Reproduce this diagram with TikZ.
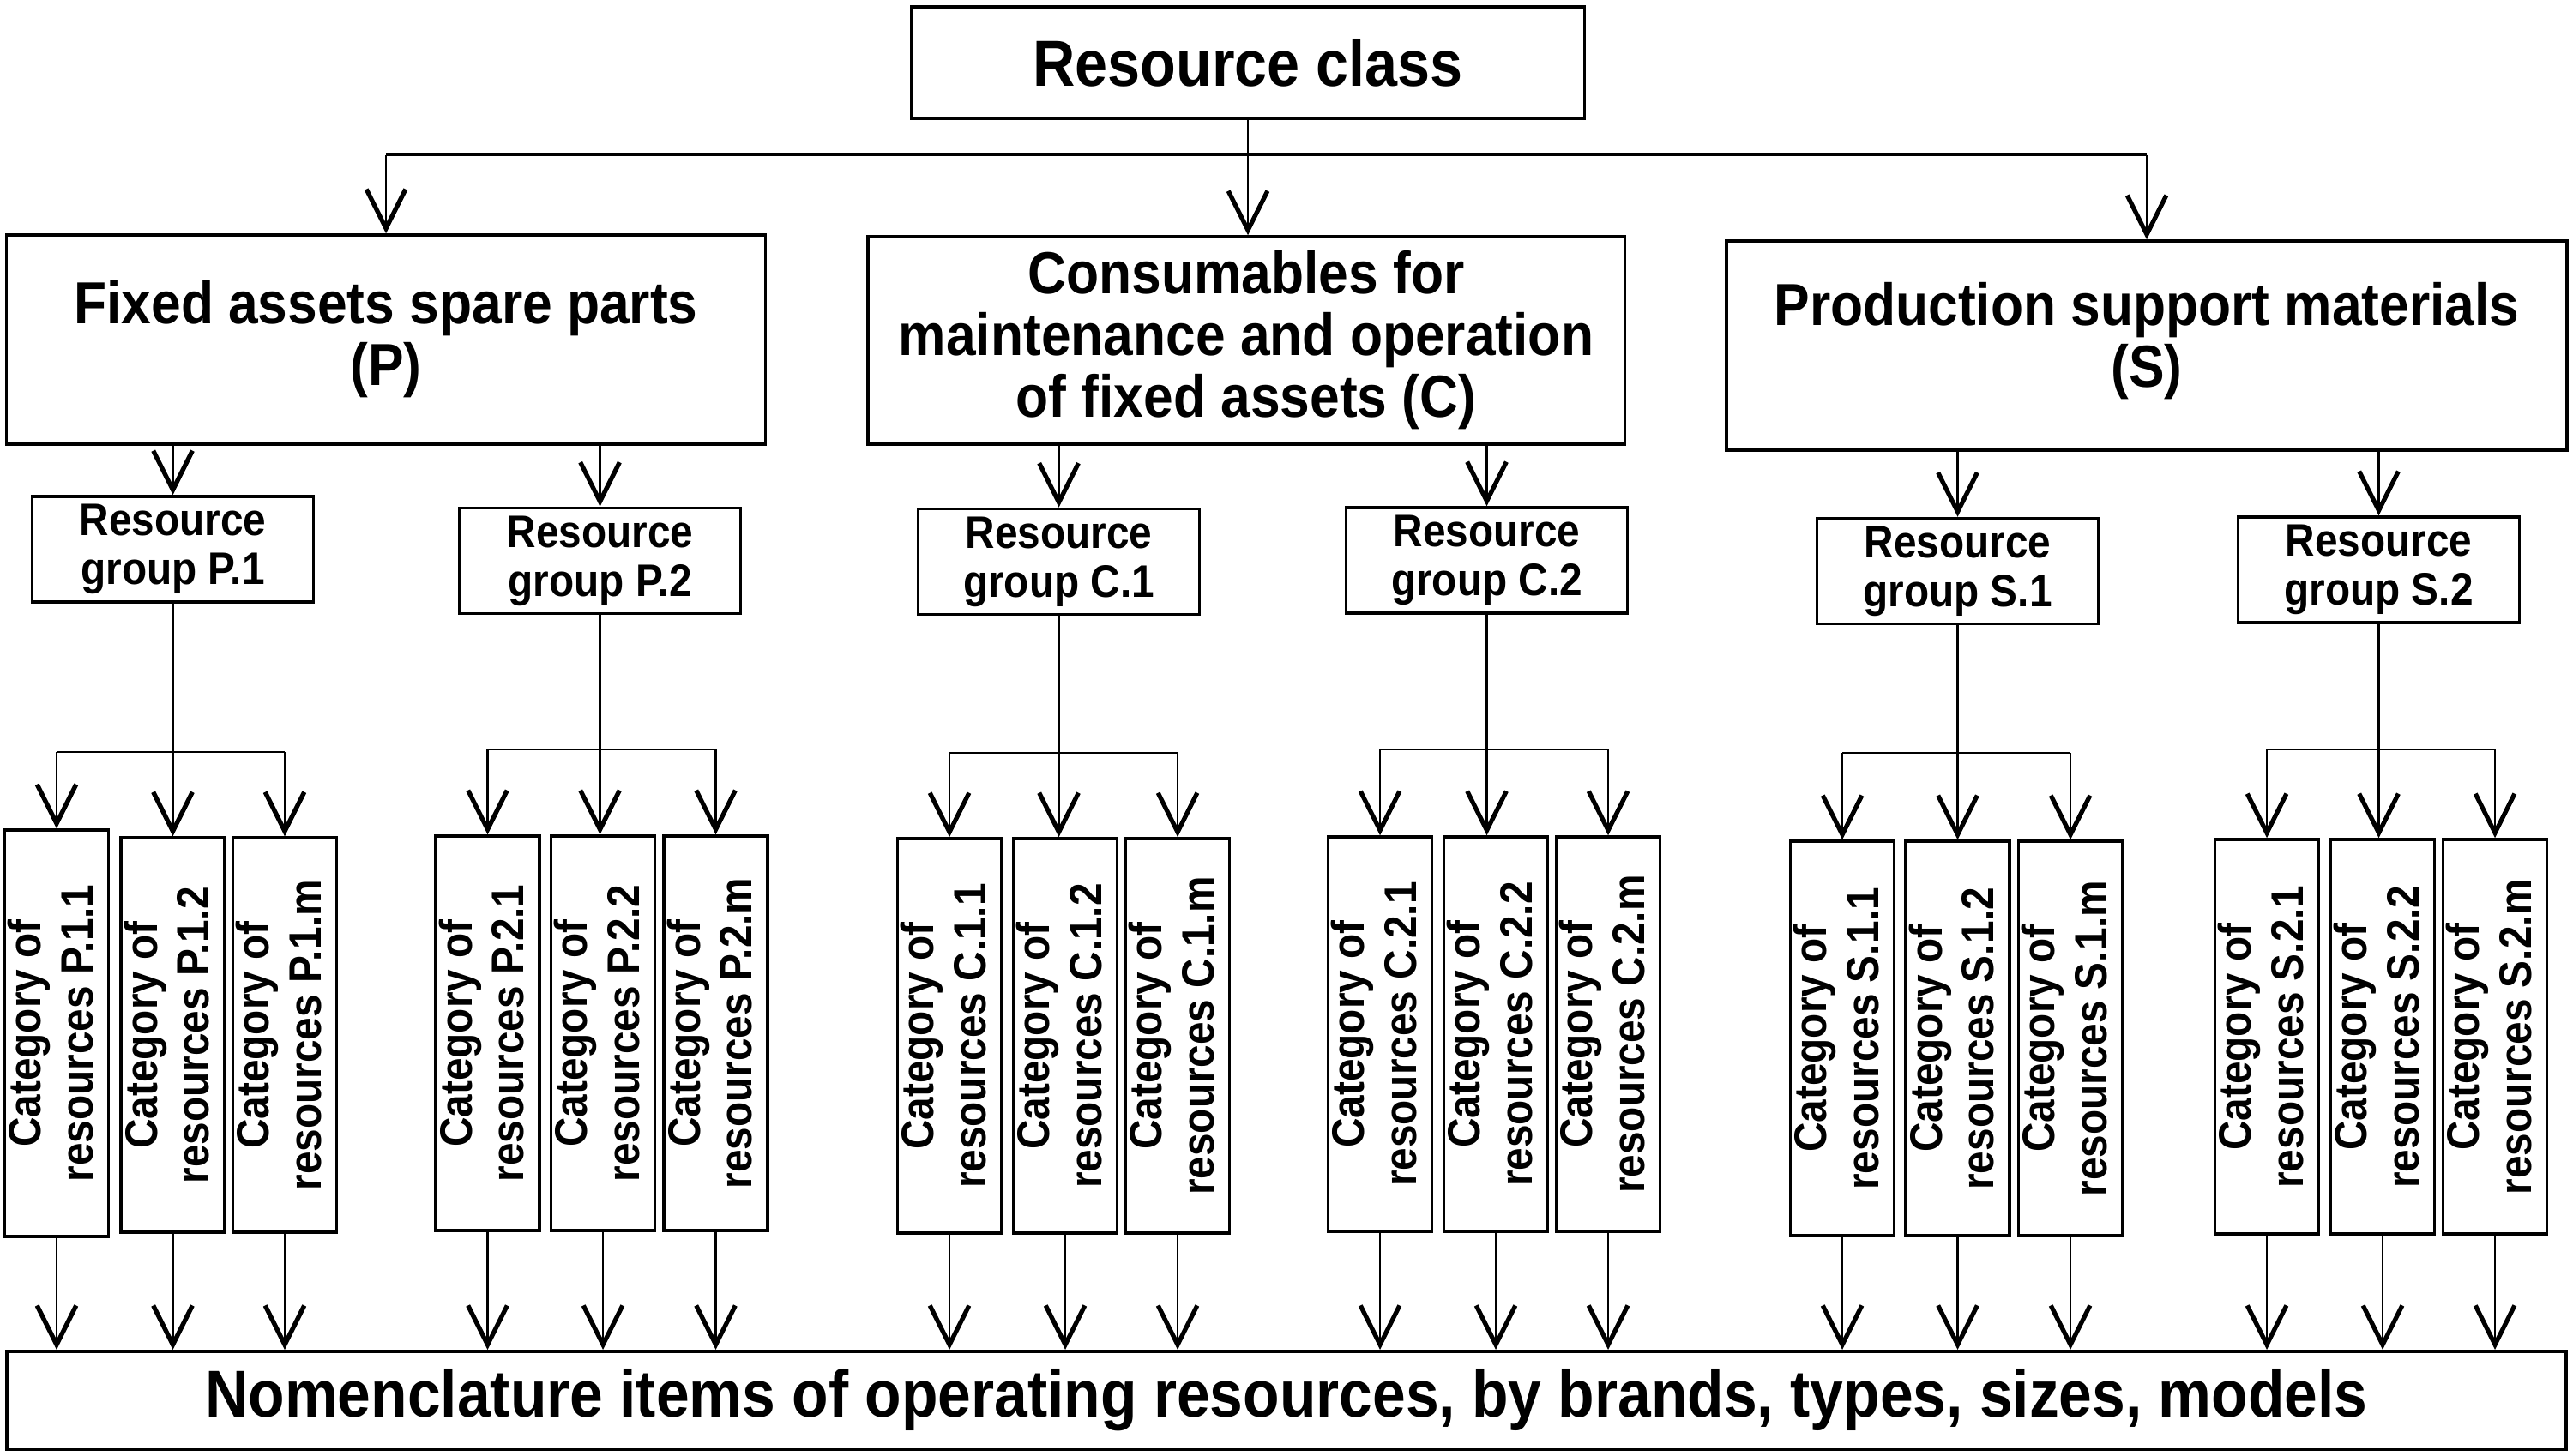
\documentclass[tikz,border=0pt]{standalone}
\usepackage{fontspec}
\setmainfont{Liberation Sans}[FakeStretch=0.9]
\usepackage{tikz}
\usetikzlibrary{arrows.meta}
\newcommand{\catname}[1]{\rotatebox{90}{\begin{tabular}{@{}c@{}}Category of\\resources #1\end{tabular}}}

\begin{document}
\begin{tikzpicture}[
		box/.style={draw, line width=1pt, inner sep=0pt, align=center},
		topbox/.style={box, font=\bfseries\fontsize{21.6}{24}\selectfont},
		mainbox/.style={box, font=\bfseries\fontsize{19.7}{20.5}\selectfont, minimum height=2.44cm},
		grpbox/.style={box, font=\bfseries\fontsize{15.1}{16.2}\selectfont, minimum width=3.28cm, minimum height=1.23cm},
		catbox/.style={box, font=\bfseries\fontsize{15.1}{17.2}\selectfont, minimum width=1.17cm, minimum height=4.6cm},
		ln/.style={line width=0.75pt},
		arr/.style={line width=0.75pt, -{Straight Barb[length=13pt,width=13pt,line width=1.5pt]}}
	]
			%%%%% START %%%%%
			\useasboundingbox (0,0) rectangle (30,-16.97);
			
			\node[topbox, minimum width=7.85cm, minimum height=1.3cm] (class) at (14.55,-0.73) {Resource class};
			
			\node[mainbox, minimum width=8.85cm] (fixed) at (4.50,-3.96) {Fixed assets spare parts\\(P)};
			\node[mainbox, minimum width=8.825cm, minimum height=2.42cm] (cons) at (14.53,-3.97) {Consumables for\\maintenance and operation\\of fixed assets (C)};
			\node[mainbox, minimum width=9.8cm] (prod) at (25.03,-4.03) {Production support materials\\(S)\rule[-0.25cm]{0pt}{0pt}};
			
			\node[grpbox] (P1) at (2.015,-6.405) {Resource\\group P.1};
			\node[grpbox] (P2) at (6.995,-6.54) {Resource\\group P.2};
			\node[grpbox] (C1) at (12.345,-6.55) {Resource\\group C.1};
			\node[grpbox] (C2) at (17.335,-6.535) {Resource\\group C.2};
			\node[grpbox] (S1) at (22.825,-6.66) {Resource\\group S.1};
			\node[grpbox] (S2) at (27.735,-6.645) {Resource\\group S.2};
			
			\node[catbox, minimum height=4.74cm] (P11) at (0.66,-12.05) {\catname{P.1.1}};
			\node[catbox] (P12) at (2.015,-12.07) {\catname{P.1.2}};
			\node[catbox] (P13) at (3.32,-12.07) {\catname{P.1.m}};
			\node[catbox] (P21) at (5.685,-12.05) {\catname{P.2.1}};
			\node[catbox] (P22) at (7.03,-12.05) {\catname{P.2.2}};
			\node[catbox] (P23) at (8.345,-12.05) {\catname{P.2.m}};
			\node[catbox] (C11) at (11.07,-12.08) {\catname{C.1.1}};
			\node[catbox] (C12) at (12.42,-12.08) {\catname{C.1.2}};
			\node[catbox] (C13) at (13.73,-12.08) {\catname{C.1.m}};
			\node[catbox] (C21) at (16.09,-12.06) {\catname{C.2.1}};
			\node[catbox] (C22) at (17.44,-12.06) {\catname{C.2.2}};
			\node[catbox] (C23) at (18.75,-12.06) {\catname{C.2.m}};
			\node[catbox] (S11) at (21.48,-12.11) {\catname{S.1.1}};
			\node[catbox] (S12) at (22.825,-12.11) {\catname{S.1.2}};
			\node[catbox] (S13) at (24.14,-12.11) {\catname{S.1.m}};
			\node[catbox] (S21) at (26.43,-12.09) {\catname{S.2.1}};
			\node[catbox] (S22) at (27.78,-12.09) {\catname{S.2.2}};
			\node[catbox] (S23) at (29.09,-12.09) {\catname{S.2.m}};
			
			\node[topbox, font=\bfseries\fontsize{22}{24}\selectfont, minimum width=29.84cm, minimum height=1.145cm] (nom) at (15.0,-16.33) {Nomenclature items of operating resources, by brands, types, sizes, models};
			
			\coordinate (top) at (0,-1.805);
			\coordinate (barP1) at (0,-8.77);
			\coordinate (barP2) at (0,-8.74);
			\coordinate (barC1) at (0,-8.78);
			\coordinate (barC2) at (0,-8.74);
			\coordinate (barS1) at (0,-8.78);
			\coordinate (barS2) at (0,-8.74);
			
			\draw[ln] (fixed.north |- top) -- (prod.north |- top);
			\draw[arr] (fixed.north |- top) -- (fixed.north);
			\draw[arr] (prod.north |- top) -- (prod.north);
			\draw[arr] (class.south) -- (class.south |- cons.north);
			
			\draw[arr] (fixed.south -| P1) -- (P1.north);
			\draw[arr] (fixed.south -| P2) -- (P2.north);
			\draw[arr] (cons.south -| C1) -- (C1.north);
			\draw[arr] (cons.south -| C2) -- (C2.north);
			\draw[arr] (prod.south -| S1) -- (S1.north);
			\draw[arr] (prod.south -| S2) -- (S2.north);
			
			\draw[arr] (P1.south) -- (P1.south |- P12.north);
			\draw[ln] (P11.north |- barP1) -- (P13.north |- barP1);
			\draw[arr] (P11.north |- barP1) -- (P11.north);
			\draw[arr] (P13.north |- barP1) -- (P13.north);
			
			\draw[arr] (P2.south) -- (P2.south |- P22.north);
			\draw[ln] (P21.north |- barP2) -- (P23.north |- barP2);
			\draw[arr] (P21.north |- barP2) -- (P21.north);
			\draw[arr] (P23.north |- barP2) -- (P23.north);
			
			\draw[arr] (C1.south) -- (C1.south |- C12.north);
			\draw[ln] (C11.north |- barC1) -- (C13.north |- barC1);
			\draw[arr] (C11.north |- barC1) -- (C11.north);
			\draw[arr] (C13.north |- barC1) -- (C13.north);
			
			\draw[arr] (C2.south) -- (C2.south |- C22.north);
			\draw[ln] (C21.north |- barC2) -- (C23.north |- barC2);
			\draw[arr] (C21.north |- barC2) -- (C21.north);
			\draw[arr] (C23.north |- barC2) -- (C23.north);
			
			\draw[arr] (S1.south) -- (S1.south |- S12.north);
			\draw[ln] (S11.north |- barS1) -- (S13.north |- barS1);
			\draw[arr] (S11.north |- barS1) -- (S11.north);
			\draw[arr] (S13.north |- barS1) -- (S13.north);
			
			\draw[arr] (S2.south) -- (S2.south |- S22.north);
			\draw[ln] (S21.north |- barS2) -- (S23.north |- barS2);
			\draw[arr] (S21.north |- barS2) -- (S21.north);
			\draw[arr] (S23.north |- barS2) -- (S23.north);
			
			\draw[arr] (P11.south) -- (P11.south |- nom.north);
			\draw[arr] (P12.south) -- (P12.south |- nom.north);
			\draw[arr] (P13.south) -- (P13.south |- nom.north);
			\draw[arr] (P21.south) -- (P21.south |- nom.north);
			\draw[arr] (P22.south) -- (P22.south |- nom.north);
			\draw[arr] (P23.south) -- (P23.south |- nom.north);
			\draw[arr] (C11.south) -- (C11.south |- nom.north);
			\draw[arr] (C12.south) -- (C12.south |- nom.north);
			\draw[arr] (C13.south) -- (C13.south |- nom.north);
			\draw[arr] (C21.south) -- (C21.south |- nom.north);
			\draw[arr] (C22.south) -- (C22.south |- nom.north);
			\draw[arr] (C23.south) -- (C23.south |- nom.north);
			\draw[arr] (S11.south) -- (S11.south |- nom.north);
			\draw[arr] (S12.south) -- (S12.south |- nom.north);
			\draw[arr] (S13.south) -- (S13.south |- nom.north);
			\draw[arr] (S21.south) -- (S21.south |- nom.north);
			\draw[arr] (S22.south) -- (S22.south |- nom.north);
			\draw[arr] (S23.south) -- (S23.south |- nom.north);
			
			%%%%% END %%%%%
\end{tikzpicture}
\end{document}
